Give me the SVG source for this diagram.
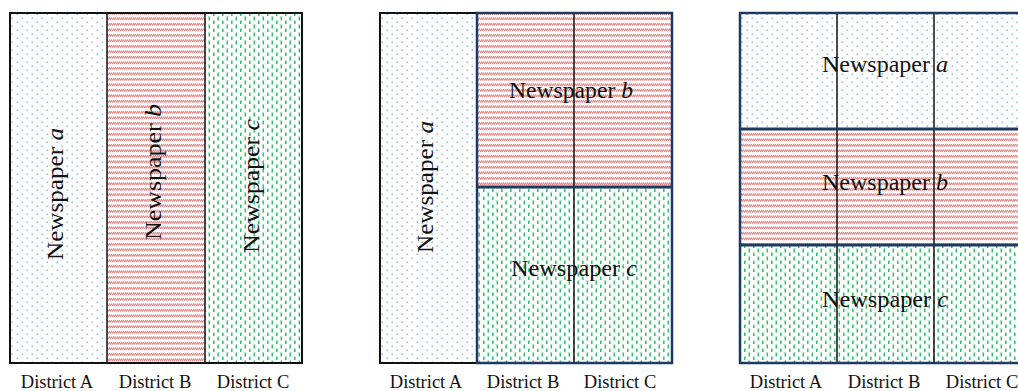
<svg xmlns="http://www.w3.org/2000/svg" width="1018" height="391" viewBox="0 0 1018 391">
  <defs>
    <!-- light blue staggered dots -->
    <pattern id="dots" width="10" height="8" patternUnits="userSpaceOnUse">
      <rect x="1.5" y="1.5" width="1.5" height="1.5" fill="#94b8e6"/>
      <rect x="6.5" y="5.5" width="1.5" height="1.5" fill="#94b8e6"/>
    </pattern>
    <!-- red rows of small diagonal strokes -->
    <pattern id="zig" width="4" height="5.5" patternUnits="userSpaceOnUse">
      <path d="M0,3.4 L2,1.2 M2,3.4 L4,1.2" stroke="#e57878" stroke-width="1.2" fill="none"/>
    </pattern>
    <!-- green staggered vertical dashes -->
    <pattern id="dash" width="9" height="8" patternUnits="userSpaceOnUse">
      <rect x="1.5" y="0.5" width="1.6" height="4" fill="#33c473"/>
      <rect x="6" y="4.5" width="1.6" height="4" fill="#33c473"/>
    </pattern>
  </defs>
  <style>
    .lbl { font-family: "Liberation Serif", "Times New Roman", serif; font-size: 18.5px; fill: #111; text-anchor: middle; }
    .np { font-family: "Liberation Serif", "Times New Roman", serif; font-size: 23px; fill: #111; text-anchor: middle; }
    .it { font-style: italic; }
    .outer { fill: none; stroke: #111; stroke-width: 2; }
    .navy { fill: none; stroke: #1f3a62; stroke-width: 2.5; }
    .navyline { stroke: #1f3a62; stroke-width: 3; }
    .div { stroke: #111; stroke-width: 1.5; }
  </style>

  <rect width="1018" height="391" fill="#ffffff"/>

  <!-- Panel 1: each newspaper covers one district -->
  <g id="panel1">
    <g id="p1-a">
      <rect x="10" y="13" width="97" height="350" fill="url(#dots)"/>
      <text class="np" transform="translate(63,194) rotate(-90)" textLength="132" lengthAdjust="spacingAndGlyphs">Newspaper <tspan class="it">a</tspan></text>
    </g>
    <g id="p1-b">
      <rect x="107" y="13" width="98" height="350" fill="url(#zig)"/>
      <text class="np" transform="translate(161,172) rotate(-90)" textLength="136" lengthAdjust="spacingAndGlyphs">Newspaper <tspan class="it">b</tspan></text>
    </g>
    <g id="p1-c">
      <rect x="205" y="13" width="97" height="350" fill="url(#dash)"/>
      <text class="np" transform="translate(259,186) rotate(-90)" textLength="134" lengthAdjust="spacingAndGlyphs">Newspaper <tspan class="it">c</tspan></text>
    </g>
    <g id="p1-lines">
      <line class="div" x1="107" y1="13" x2="107" y2="363"/>
      <line class="div" x1="205" y1="13" x2="205" y2="363"/>
      <rect class="outer" x="10" y="13" width="292" height="350"/>
    </g>
    <text class="lbl" x="57" y="388">District A</text>
    <text class="lbl" x="155" y="388">District B</text>
    <text class="lbl" x="253" y="388">District C</text>
  </g>

  <!-- Panel 2: newspapers b and c split districts B and C -->
  <g id="panel2">
    <g id="p2-a">
      <rect x="380" y="13" width="97" height="350" fill="url(#dots)"/>
      <text class="np" transform="translate(433,187) rotate(-90)" textLength="132" lengthAdjust="spacingAndGlyphs">Newspaper <tspan class="it">a</tspan></text>
    </g>
    <g id="p2-b">
      <rect x="477" y="13" width="195" height="174" fill="url(#zig)"/>
      <text class="np" x="571" y="98" textLength="124" lengthAdjust="spacingAndGlyphs">Newspaper <tspan class="it">b</tspan></text>
    </g>
    <g id="p2-c">
      <rect x="477" y="187" width="195" height="176" fill="url(#dash)"/>
      <text class="np" x="574" y="276" textLength="126" lengthAdjust="spacingAndGlyphs">Newspaper <tspan class="it">c</tspan></text>
    </g>
    <g id="p2-lines">
      <rect class="outer" x="380" y="13" width="292" height="350"/>
      <line class="div" x1="574" y1="13" x2="574" y2="363"/>
      <rect class="navy" x="477" y="13" width="195" height="350"/>
      <line class="navyline" x1="477" y1="187" x2="672" y2="187"/>
    </g>
    <text class="lbl" x="426" y="388">District A</text>
    <text class="lbl" x="523" y="388">District B</text>
    <text class="lbl" x="620" y="388">District C</text>
  </g>

  <!-- Panel 3: every newspaper spans all districts -->
  <g id="panel3">
    <g id="p3-a">
      <rect x="740" y="13" width="291" height="116" fill="url(#dots)"/>
      <text class="np" x="885" y="72" textLength="126" lengthAdjust="spacingAndGlyphs">Newspaper <tspan class="it">a</tspan></text>
    </g>
    <g id="p3-b">
      <rect x="740" y="129" width="291" height="116" fill="url(#zig)"/>
      <text class="np" x="885" y="190" textLength="126" lengthAdjust="spacingAndGlyphs">Newspaper <tspan class="it">b</tspan></text>
    </g>
    <g id="p3-c">
      <rect x="740" y="245" width="291" height="118" fill="url(#dash)"/>
      <text class="np" x="885" y="307" textLength="126" lengthAdjust="spacingAndGlyphs">Newspaper <tspan class="it">c</tspan></text>
    </g>
    <g id="p3-lines">
      <line class="div" x1="837" y1="13" x2="837" y2="363"/>
      <line class="div" x1="934" y1="13" x2="934" y2="363"/>
      <line class="navyline" x1="740" y1="129" x2="1031" y2="129"/>
      <line class="navyline" x1="740" y1="245" x2="1031" y2="245"/>
      <rect class="navy" x="740" y="13" width="291" height="350"/>
    </g>
    <text class="lbl" x="786" y="388">District A</text>
    <text class="lbl" x="884" y="388">District B</text>
    <text class="lbl" x="982" y="388">District C</text>
  </g>
</svg>
